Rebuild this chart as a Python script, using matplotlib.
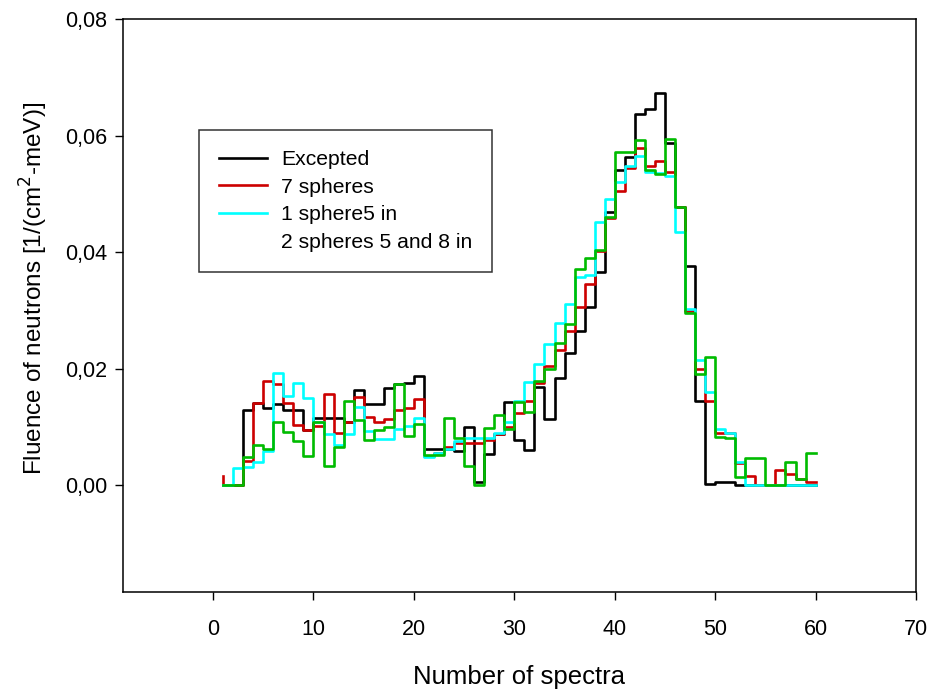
import numpy as np
import matplotlib
matplotlib.use("Agg")
import matplotlib.pyplot as plt
from matplotlib.lines import Line2D
from matplotlib.ticker import FuncFormatter

plt.rcParams['font.family'] = ['Liberation Sans', 'DejaVu Sans']

# spectrum number 1..60
spectra = np.arange(1, 61)

expected = [0, 0, 0, 0.0128, 0.0141, 0.0133, 0.0139, 0.0128, 0.0128, 0.0094,
            0.0115, 0.0115, 0.0115, 0.0108, 0.0164, 0.0139, 0.0139, 0.0166, 0.0174, 0.0175,
            0.0188, 0.0062, 0.0062, 0.0062, 0.0058, 0.0100, 0.0006, 0.0053, 0.0087, 0.0143,
            0.0078, 0.0061, 0.0169, 0.0114, 0.0183, 0.0227, 0.0265, 0.0305, 0.0365, 0.0468,
            0.0541, 0.0564, 0.0637, 0.0645, 0.0673, 0.0587, 0.0478, 0.0376, 0.0145, 0.0002,
            0.0005, 0.0005, 0, 0, 0, 0, 0, 0, 0, 0]

spheres7 = [0.0015, 0, 0, 0.0041, 0.0141, 0.0179, 0.0174, 0.0141, 0.0103, 0.0094,
            0.0101, 0.0156, 0.0089, 0.0109, 0.0152, 0.0117, 0.0108, 0.0114, 0.0129, 0.0132,
            0.0148, 0.0050, 0.0055, 0.0065, 0.0072, 0.0072, 0.0072, 0.0078, 0.0088, 0.0100,
            0.0124, 0.0145, 0.0175, 0.0205, 0.0231, 0.0265, 0.0305, 0.0345, 0.0401, 0.0458,
            0.0504, 0.0545, 0.0579, 0.0548, 0.0557, 0.0538, 0.0478, 0.0298, 0.0200, 0.0145,
            0.0090, 0.0090, 0.0038, 0.0016, 0, 0, 0.0025, 0.0019, 0.0010, 0.0006]

sphere1 = [0, 0, 0.0029, 0.0031, 0.0039, 0.0059, 0.0192, 0.0153, 0.0175, 0.0150,
           0.0109, 0.0088, 0.0069, 0.0088, 0.0134, 0.0092, 0.0079, 0.0079, 0.0097, 0.0102,
           0.0115, 0.0048, 0.0055, 0.0062, 0.0075, 0.0080, 0.0080, 0.0080, 0.0090, 0.0108,
           0.0145, 0.0177, 0.0207, 0.0243, 0.0278, 0.0310, 0.0358, 0.0361, 0.0452, 0.0491,
           0.0521, 0.0547, 0.0565, 0.0538, 0.0535, 0.0530, 0.0435, 0.0302, 0.0215, 0.0159,
           0.0096, 0.0090, 0.0040, 0, 0, 0, 0, 0, 0, 0]

spheres2 = [0, 0, 0, 0.0049, 0.0068, 0.0062, 0.0108, 0.0091, 0.0075, 0.0050,
            0.0109, 0.0032, 0.0065, 0.0145, 0.0111, 0.0078, 0.0094, 0.0099, 0.0173, 0.0085,
            0.0105, 0.0052, 0.0051, 0.0115, 0.0080, 0.0033, 0, 0.0098, 0.0121, 0.0097,
            0.0143, 0.0125, 0.0178, 0.0200, 0.0244, 0.0277, 0.0371, 0.0389, 0.0403, 0.0460,
            0.0572, 0.0572, 0.0593, 0.0541, 0.0534, 0.0594, 0.0478, 0.0296, 0.0191, 0.0219,
            0.0082, 0.0081, 0.0013, 0.0046, 0.0046, 0, 0, 0.0039, 0.0011, 0.0055]

labels = ["Excepted", "7 spheres", "1 sphere5 in", "2 spheres 5 and 8 in"]
colors = ["black", "#cc0000", "#00ffff", "#00bb00"]

fig = plt.figure(figsize=(9.33, 6.92), dpi=100)
ax = fig.add_axes([0.1315, 0.145, 0.8503, 0.8275])

for ys, c in zip([expected, spheres7, sphere1, spheres2], colors):
    ax.plot(spectra, ys, drawstyle='steps-pre', color=c, lw=1.9)

ax.set_xlim(-9, 70)
ax.set_ylim(-0.0183, 0.08)
ax.set_xticks(np.arange(0, 71, 10))
ax.set_yticks([0, 0.02, 0.04, 0.06, 0.08])
ax.yaxis.set_major_formatter(FuncFormatter(lambda v, p: ("%.2f" % v).replace('.', ',')))
ax.tick_params(direction='out', length=6, width=1, labelsize=15.5, pad=5)
ax.tick_params(axis='x', pad=14)
for s in ax.spines.values():
    s.set_linewidth(1.1)

ax.set_xlabel("Number of spectra", fontsize=18.5, labelpad=18)
ax.set_ylabel("Fluence of neutrons [1/(cm$^2$-meV)]", fontsize=17.5)
ax.yaxis.set_label_coords(-0.091, 0.529)

handles = [Line2D([], [], color=c, lw=1.9) for c in colors[:3]]
handles.append(Line2D([], [], color='none'))
leg = ax.legend(handles, labels, loc='upper left', bbox_to_anchor=(0.096, 0.806),
                fontsize=15.2, frameon=True, fancybox=False, handlelength=2.3,
                borderpad=0.95, labelspacing=0.4, handletextpad=0.65, borderaxespad=0)
leg.get_frame().set_edgecolor('black')
leg.get_frame().set_linewidth(1.1)

fig.savefig("out.png", dpi=100)
